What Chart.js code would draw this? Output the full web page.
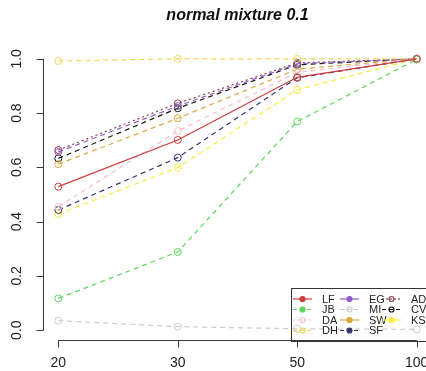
<!DOCTYPE html>
<html>
<head>
<meta charset="utf-8">
<script src="https://cdn.jsdelivr.net/npm/chart.js@4.4.1/dist/chart.umd.min.js"></script>
<style>
  html, body { margin: 0; padding: 0; background: #fff; overflow: hidden; width: 426px; height: 371px; }
  #wrap { width: 440px; height: 371px; }
</style>
</head>
<body>
<div id="wrap"><canvas id="chart" width="440" height="371"></canvas></div>
<script>
// sample sizes on the x axis
const categories = ['20', '30', '50', '100'];
const yTicks = [0, 0.2, 0.4, 0.6, 0.8, 1.0];
const yTickLabels = ['0.0', '0.2', '0.4', '0.6', '0.8', '1.0'];

// power per test
const LF = [0.529, 0.701, 0.932, 1.0];
const JB = [0.117, 0.288, 0.769, 0.998];
const DA = [0.455, 0.734, 0.950, 1.0];
const DH = [0.992, 1.0, 1.0, 1.0];
const EG = [0.657, 0.826, 0.982, 1.0];
const MI = [0.035, 0.013, 0.005, 0.003];
const SW = [0.612, 0.781, 0.962, 1.0];
const SF = [0.443, 0.636, 0.930, 1.0];
const AD = [0.664, 0.836, 0.985, 1.0];
const CV = [0.633, 0.818, 0.978, 1.0];
const KS = [0.428, 0.599, 0.886, 1.0];

const seriesNames = ['LF', 'JB', 'DA', 'DH', 'EG', 'MI', 'SW', 'SF', 'AD', 'CV', 'KS'];
const seriesValues = [LF, JB, DA, DH, EG, MI, SW, SF, AD, CV, KS];

// line styles: colour, dash in plot, dash in legend, filled legend dot
const styles = {
  LF: { color: '#cd3d3d', dash: [], legDash: [], fill: true },
  JB: { color: '#5cd65c', dash: [5, 4], legDash: [4, 3], fill: true },
  DA: { color: '#f7bfca', dash: [5, 4], legDash: [2, 2], fill: false },
  DH: { color: '#f0d85a', dash: [5, 4], legDash: [4, 3], fill: false },
  EG: { color: '#8f5cc9', dash: [5, 4], legDash: [], fill: true },
  MI: { color: '#cccccc', dash: [5, 4], legDash: [4, 3], fill: false },
  SW: { color: '#dca73c', dash: [5, 4], legDash: [], fill: true },
  SF: { color: '#35356f', dash: [5, 4], legDash: [4, 3], fill: true },
  AD: { color: '#8c3f4f', dash: [2, 3], legDash: [2, 2], fill: false },
  CV: { color: '#151515', dash: [5, 4], legDash: [4, 3], fill: false },
  KS: { color: '#f7ee3c', dash: [5, 4], legDash: [], fill: true }
};

const datasets = seriesNames.map((name, i) => ({
  label: name,
  data: seriesValues[i].map((v, j) => ({ x: j + 1, y: v })),
  borderColor: styles[name].color,
  borderWidth: 1.2,
  borderDash: styles[name].dash,
  pointStyle: 'circle',
  pointRadius: 3.5,
  pointBorderWidth: 1,
  pointBorderColor: styles[name].color,
  pointBackgroundColor: 'rgba(0,0,0,0)',
  tension: 0,
  fill: false
}));

const axisColor = '#3a3a3a';

const rAxes = {
  id: 'rAxes',
  afterDraw(chart) {
    const ctx = chart.ctx;
    const xs = chart.scales.x, ys = chart.scales.y;
    ctx.save();
    ctx.strokeStyle = axisColor;
    ctx.fillStyle = '#222';
    ctx.lineWidth = 1;

    // y axis
    const ax = 43.5;
    ctx.beginPath();
    ctx.moveTo(ax, ys.getPixelForValue(yTicks[0]));
    ctx.lineTo(ax, ys.getPixelForValue(yTicks[yTicks.length - 1]));
    yTicks.forEach(t => {
      const py = Math.round(ys.getPixelForValue(t)) + 0.5;
      ctx.moveTo(ax, py);
      ctx.lineTo(ax - 7, py);
    });
    ctx.stroke();
    ctx.font = '14px "Liberation Sans", Arial, sans-serif';
    ctx.textAlign = 'center';
    ctx.textBaseline = 'middle';
    yTicks.forEach((t, i) => {
      const py = ys.getPixelForValue(t);
      ctx.save();
      ctx.translate(17, py);
      ctx.rotate(-Math.PI / 2);
      ctx.fillText(yTickLabels[i], 0, 0);
      ctx.restore();
    });

    // x axis
    const ay = 340.5;
    ctx.beginPath();
    ctx.moveTo(xs.getPixelForValue(1), ay);
    ctx.lineTo(xs.getPixelForValue(categories.length), ay);
    categories.forEach((c, i) => {
      const px = Math.round(xs.getPixelForValue(i + 1)) + 0.5;
      ctx.moveTo(px, ay);
      ctx.lineTo(px, ay + 7);
    });
    ctx.stroke();
    categories.forEach((c, i) => {
      ctx.fillText(c, xs.getPixelForValue(i + 1), 363);
    });

    // title
    ctx.font = 'italic bold 16px "Liberation Sans", Arial, sans-serif';
    ctx.fillStyle = '#111';
    ctx.fillText('normal mixture 0.1', (chart.chartArea.left + chart.chartArea.right) / 2, 16);

    // legend (transparent box, 3 columns filled top to bottom)
    ctx.strokeStyle = '#333';
    ctx.strokeRect(291.5, 288.5, 160, 53);
    const colX = [293, 340, 382];
    const rowY = [299, 309.5, 320, 330.5];
    ctx.font = '11px "Liberation Sans", Arial, sans-serif';
    ctx.textAlign = 'left';
    seriesNames.forEach((name, i) => {
      const col = Math.floor(i / 4), row = i % 4;
      const x0 = colX[col], y0 = rowY[row];
      const s = styles[name];
      ctx.strokeStyle = s.color;
      ctx.lineWidth = 1.2;
      ctx.setLineDash(s.legDash);
      ctx.beginPath();
      ctx.moveTo(x0, y0);
      ctx.lineTo(x0 + 19, y0);
      ctx.stroke();
      ctx.setLineDash([]);
      ctx.beginPath();
      ctx.arc(x0 + 9.5, y0, 2.5, 0, Math.PI * 2);
      if (s.fill) { ctx.fillStyle = s.color; ctx.fill(); }
      ctx.stroke();
      ctx.fillStyle = '#222';
      ctx.fillText(name, x0 + 29, y0 + 0.5);
    });
    ctx.restore();
  }
};

new Chart(document.getElementById('chart'), {
  type: 'line',
  data: { datasets: datasets },
  options: {
    responsive: false,
    animation: false,
    devicePixelRatio: 1,
    layout: { padding: { top: 48, bottom: 30, left: 44, right: 9 } },
    scales: {
      x: { type: 'linear', min: 0.88, max: 4.12, display: false },
      y: { type: 'linear', min: -0.04, max: 1.04, display: false }
    },
    plugins: {
      legend: { display: false },
      title: { display: false },
      tooltip: { enabled: false }
    }
  },
  plugins: [rAxes]
});
</script>
</body>
</html>
